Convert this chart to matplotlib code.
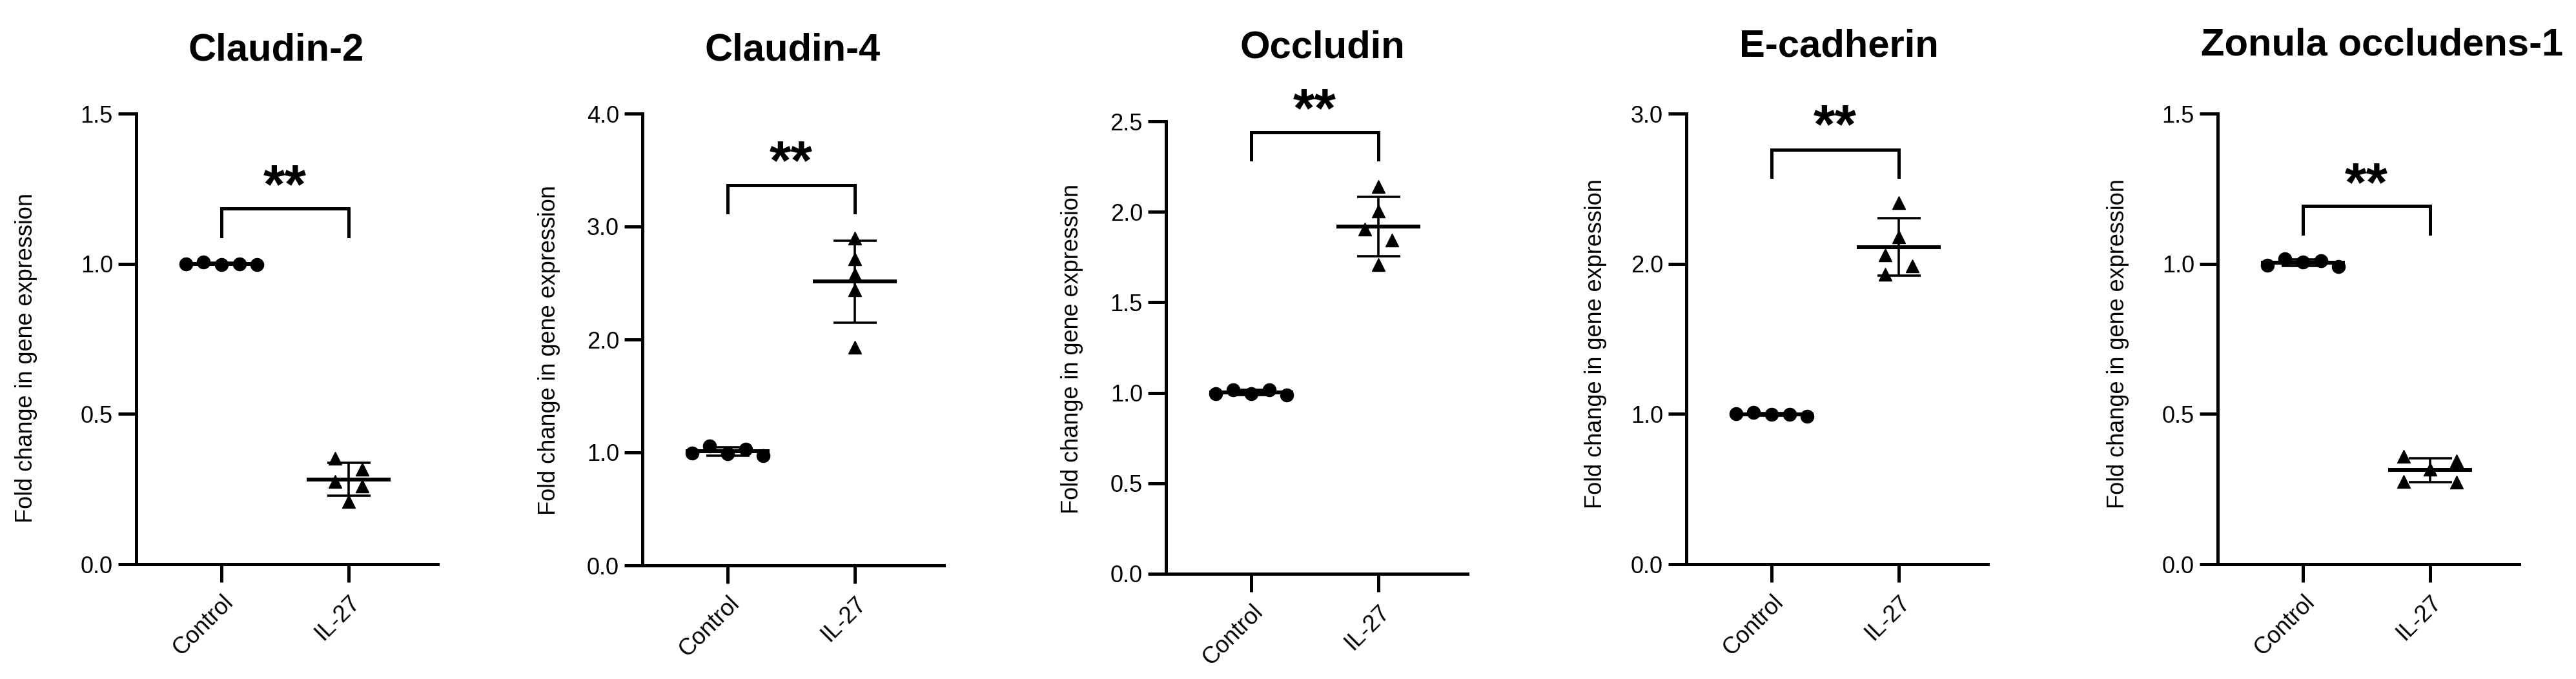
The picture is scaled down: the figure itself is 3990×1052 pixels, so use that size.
import numpy as np
import matplotlib
matplotlib.use("Agg")
import matplotlib.pyplot as plt

plt.rcParams['font.family'] = ['Liberation Sans', 'DejaVu Sans']

# ---- data -------------------------------------------------------------
titles = ['Claudin-2', 'Claudin-4', 'Occludin', 'E-cadherin', 'Zonula occludens-1']
groups = ['Control', 'IL-27']
y_max = [1.5, 4.0, 2.5, 3.0, 1.5]
y_step = [0.5, 1.0, 0.5, 1.0, 0.5]

control = [
    [0.998, 1.005, 1.000, 1.000, 0.998],
    [0.991, 1.060, 1.026, 0.997, 0.969],
    [0.994, 1.016, 1.016, 0.994, 0.987],
    [0.995, 1.008, 0.995, 1.000, 0.985],
    [1.005, 1.016, 1.009, 0.996, 0.990],
]
il27 = [
    [0.352, 0.315, 0.274, 0.261, 0.208],
    [2.895, 2.712, 2.580, 2.440, 1.932],
    [2.141, 2.003, 1.843, 1.903, 1.708],
    [2.409, 2.177, 2.057, 1.984, 1.929],
    [0.358, 0.344, 0.315, 0.275, 0.272],
]
signif = ['**', '**', '**', '**', '**']

# ---- layout (pixels of the 3991x1052 canvas) -------------------------
W, H = 3991, 1052
ax_left = [211, 995, 1806, 2612, 3435]
ax_top = [176, 176, 188, 176, 176]
ax_bot = [874, 876, 889, 874, 874]
ax_w = 467
title_x = [428, 1228, 2048, 2848, 3690]
title_y = [78, 78, 74, 72, 70]
ylab_x = [58, 868, 1678, 2489, 3298]   # right edge of the rotated label
ylab_y = [555, 542, 540, 533, 532]
# bracket: bar level, leg bottom, star centre (data units)
br_top = [1.184, 3.366, 2.439, 2.761, 1.193]
br_leg = [1.092, 3.126, 2.290, 2.580, 1.100]
star_y = [1.250, 3.55, 2.55, 2.90, 1.257]

x_lim = (-0.67, 1.70)
spacing = {'Control': 0.14, 'IL-27': 0.21}
markers = {'Control': 'o', 'IL-27': '^'}


def spread(vals, ymax, step, thr=0.03):
    """GraphPad-like scatter: points that would overlap get side slots."""
    n = len(vals)
    near = [[j for j in range(n) if j != i and abs(vals[i] - vals[j]) / ymax < thr]
            for i in range(n)]
    order = sorted(range(n), key=lambda i: -len(near[i]))
    cand = [0] + [s * m for m in range(1, n + 1) for s in (-1, 1)]
    slot = {}
    for i in order:
        taken = {slot[j] for j in near[i] if j in slot}
        slot[i] = next(c for c in cand if c not in taken)
    # centre each connected cluster
    seen = set()
    out = np.zeros(n)
    for i in range(n):
        if i in seen:
            continue
        comp, stack = [], [i]
        while stack:
            k = stack.pop()
            if k in seen:
                continue
            seen.add(k)
            comp.append(k)
            stack.extend(near[k])
        sl = [slot[k] for k in comp]
        shift = -(min(sl) + max(sl)) / 2
        for k in comp:
            out[k] = (slot[k] + shift) * step
    return out


fig = plt.figure(figsize=(W / 100, H / 100), dpi=100)

for p in range(5):
    ax = fig.add_axes([ax_left[p] / W, 1 - ax_bot[p] / H,
                       ax_w / W, (ax_bot[p] - ax_top[p]) / H])
    ymax = y_max[p]

    for g, vals in enumerate([control[p], il27[p]]):
        name = groups[g]
        vals = np.array(vals)
        xs = g + spread(vals, ymax, spacing[name])
        ax.plot(xs, vals, linestyle='none', marker=markers[name],
                markersize=14.5, color='black', zorder=2, clip_on=False)
        m = vals.mean()
        sd = vals.std(ddof=1)
        ax.hlines(m, g - 0.33, g + 0.33, color='black', lw=4.3, zorder=3)
        ax.hlines([m - sd, m + sd], g - 0.17, g + 0.17, color='black', lw=2.6, zorder=3)
        ax.vlines(g, m - sd, m + sd, color='black', lw=2.6, zorder=3)

    # significance bracket
    ax.plot([0, 0, 1, 1], [br_leg[p], br_top[p], br_top[p], br_leg[p]],
            color='black', lw=3.6, clip_on=False, solid_joinstyle='miter')
    ax.text(0.5, star_y[p], signif[p], ha='center', va='center',
            fontsize=62, fontweight='bold')

    ax.set_xlim(*x_lim)
    ax.set_ylim(0, ymax)
    ticks = np.arange(0, ymax + 1e-9, y_step[p])
    ax.set_yticks(ticks)
    ax.set_yticklabels(['%.1f' % t for t in ticks])
    ax.set_xticks([0, 1])
    ax.set_xticklabels(groups, rotation=45, ha='right', va='top',
                       rotation_mode='anchor')
    ax.tick_params(axis='both', length=20, width=3.6, labelsize=26,
                   color='black', pad=6)
    ax.tick_params(axis='x', pad=10)
    for s in ['top', 'right']:
        ax.spines[s].set_visible(False)
    for s in ['left', 'bottom']:
        ax.spines[s].set_linewidth(3.6)
        ax.spines[s].set_capstyle('projecting')

    ax.set_ylabel('Fold change in gene expression', fontsize=26)
    ax.yaxis.set_label_coords((ylab_x[p] - ax_left[p]) / ax_w,
                              (ax_bot[p] - ylab_y[p]) / (ax_bot[p] - ax_top[p]))

    fig.text(title_x[p] / W, 1 - title_y[p] / H, titles[p], ha='center',
             va='center', fontsize=43, fontweight='bold')

fig.savefig('out.png', dpi=100, facecolor='white')
